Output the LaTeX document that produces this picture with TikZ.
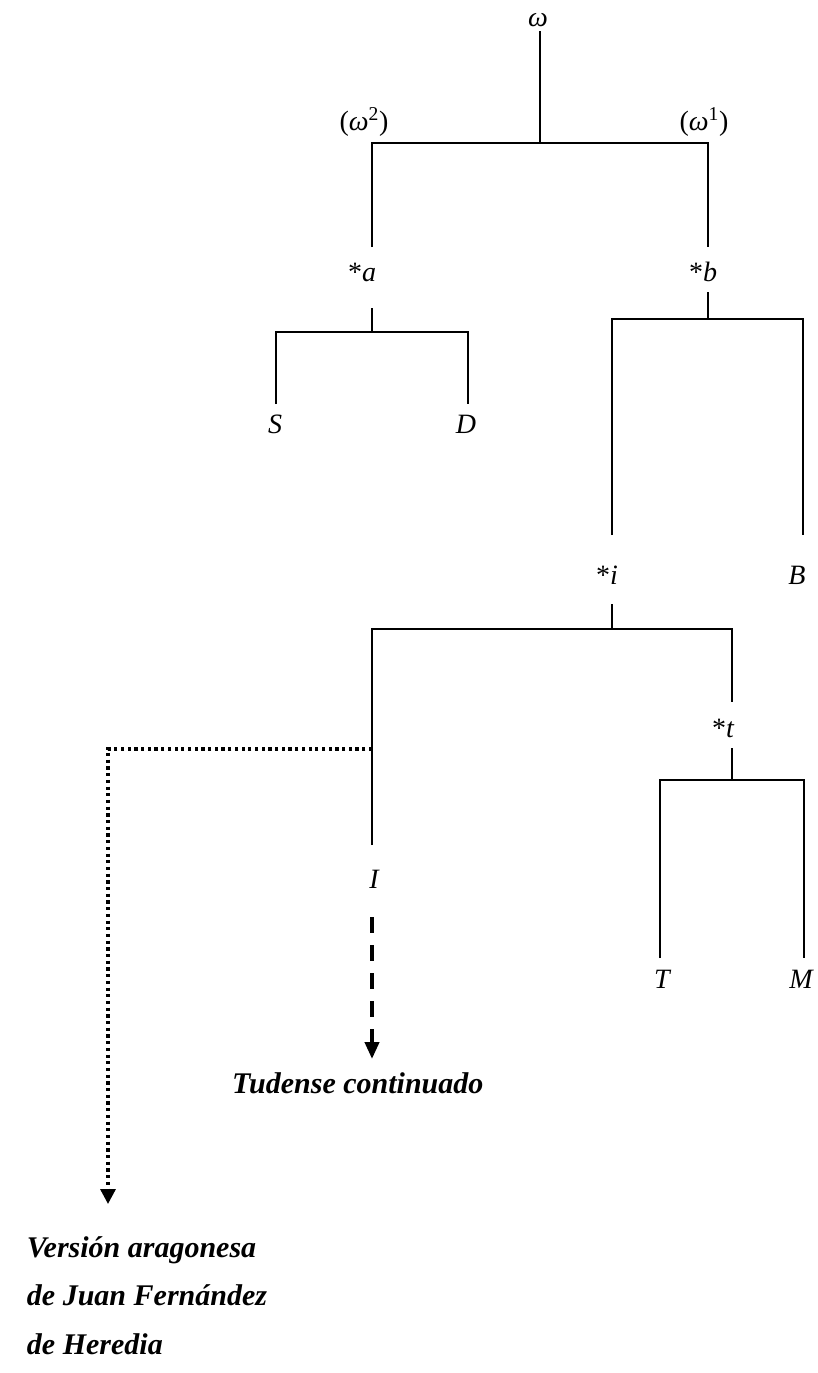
\documentclass[tikz,border=0pt]{standalone}
\usepackage{fontspec}
\setmainfont{Liberation Serif}
\usetikzlibrary{arrows.meta}
\tikzset{
  lbl/.style={anchor=base, inner sep=0pt, outer sep=0pt, font=\fontsize{28}{32}\selectfont\itshape},
  big/.style={anchor=base west, inner sep=0pt, outer sep=0pt, font=\fontsize{30}{34}\selectfont\bfseries\itshape},
  edge/.style={line width=2pt},
  dotline/.style={line width=3.2pt, dash pattern=on 3.2pt off 3.5pt, -{Triangle[width=15pt,length=15pt]}},
  dashline/.style={line width=4pt, dash pattern=on 16pt off 12pt, -{Triangle[width=14pt,length=17pt]}}
}
\begin{document}
\begin{tikzpicture}[x=1pt,y=-1pt]
\useasboundingbox (0,0) rectangle (818,1373);
% labels
\node[lbl] (om) at (538,26) {ω};
\node[lbl] (om2) at (364,130) {\upshape(\itshape ω\upshape\textsuperscript{2})};
\node[lbl] (om1) at (704,130) {\upshape(\itshape ω\upshape\textsuperscript{1})};
\node[lbl] (a) at (362,281) {\upshape*\itshape a};
\node[lbl] (b) at (703,281) {\upshape*\itshape b};
\node[lbl] (S) at (275,433) {S};
\node[lbl] (D) at (466,433) {D};
\node[lbl] (i) at (607,584) {\upshape*\itshape i};
\node[lbl] (B) at (797,584) {B};
\node[lbl] (t) at (723,737) {\upshape*\itshape t};
\node[lbl] (I) at (374,888) {I};
\node[lbl] (T) at (662,988) {T};
\node[lbl] (M) at (801,988) {M};
\node[big] (tud) at (232,1093) {Tudense continuado};
\node[big] (v1) at (27,1257) {Versión aragonesa};
\node[big] (v2) at (27,1305) {de Juan Fernández};
\node[big] (v3) at (27,1354) {de Heredia};
% coordinates
\coordinate (om-s) at (540,31);
\coordinate (j0) at (540,143);
\coordinate (j0l) at (372,143);
\coordinate (j0r) at (708,143);
\coordinate (a-n) at (372,247);
\coordinate (b-n) at (708,247);
\coordinate (a-s) at (372,308);
\coordinate (ja) at (372,332);
\coordinate (jal) at (276,332);
\coordinate (jar) at (468,332);
\coordinate (S-n) at (276,404);
\coordinate (D-n) at (468,404);
\coordinate (b-s) at (708,292);
\coordinate (jb) at (708,319);
\coordinate (jbl) at (612,319);
\coordinate (jbr) at (803,319);
\coordinate (i-n) at (612,535);
\coordinate (B-n) at (803,535);
\coordinate (i-s) at (612,604);
\coordinate (ji) at (612,629);
\coordinate (jil) at (372,629);
\coordinate (jir) at (732,629);
\coordinate (I-n) at (372,845);
\coordinate (t-n) at (732,702);
\coordinate (t-s) at (732,748);
\coordinate (jt) at (732,780);
\coordinate (jtl) at (660,780);
\coordinate (jtr) at (804,780);
\coordinate (T-n) at (660,958);
\coordinate (M-n) at (804,958);
\coordinate (dotstart) at (372,749);
\coordinate (dotcorner) at (108,749);
\coordinate (dottip) at (108,1204);
\coordinate (I-s) at (372,917);
\coordinate (tud-n) at (372,1059);
% tree lines
\draw[edge] (om-s) -- (j0);
\draw[edge] (a-n) -- (j0l) -- (j0r) -- (b-n);
\draw[edge] (a-s) -- (ja);
\draw[edge] (S-n) -- (jal) -- (jar) -- (D-n);
\draw[edge] (b-s) -- (jb);
\draw[edge] (i-n) -- (jbl) -- (jbr) -- (B-n);
\draw[edge] (i-s) -- (ji);
\draw[edge] (I-n) -- (jil) -- (jir) -- (t-n);
\draw[edge] (t-s) -- (jt);
\draw[edge] (T-n) -- (jtl) -- (jtr) -- (M-n);
% dotted and dashed arrows
\draw[dotline] (dotstart) -- (dotcorner) -- (dottip);
\draw[dashline] (I-s) -- (tud-n);
\end{tikzpicture}
\end{document}
